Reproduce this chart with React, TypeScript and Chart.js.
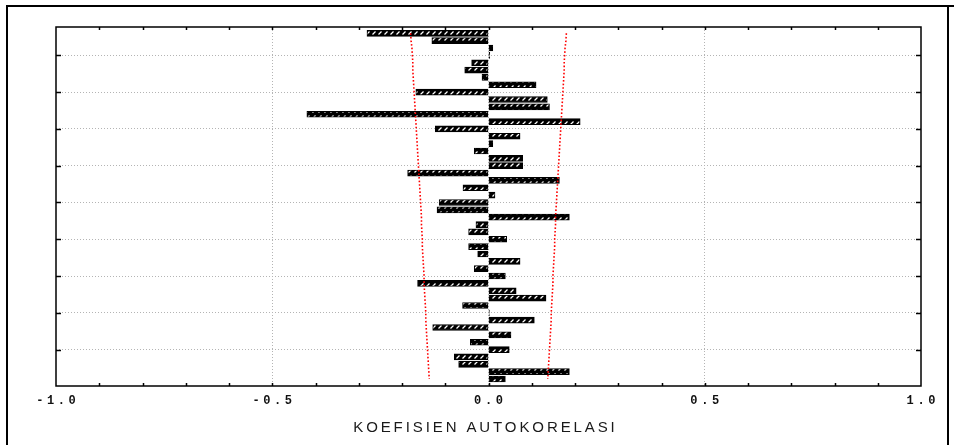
import React, { useEffect, useRef } from 'react';
import { Chart, registerables } from 'chart.js';

Chart.register(...registerables);

// Lags 1..48 (top to bottom)
const lags = [
  1, 2, 3, 4, 5, 6, 7, 8, 9, 10, 11, 12, 13, 14, 15, 16,
  17, 18, 19, 20, 21, 22, 23, 24, 25, 26, 27, 28, 29, 30, 31, 32,
  33, 34, 35, 36, 37, 38, 39, 40, 41, 42, 43, 44, 45, 46, 47, 48,
];

// Autocorrelation coefficients
const acf = [
  -0.281, -0.131, 0.010, 0.003, -0.039, -0.055, -0.015, 0.110,
  -0.168, 0.136, 0.141, -0.420, 0.212, -0.123, 0.073, 0.010,
  -0.033, 0.079, 0.079, -0.187, 0.164, -0.059, 0.015, -0.114,
  -0.119, 0.187, -0.029, -0.046, 0.042, -0.046, -0.025, 0.073,
  -0.033, 0.039, -0.164, 0.064, 0.133, -0.060, 0.002, 0.106,
  -0.129, 0.052, -0.042, 0.048, -0.079, -0.069, 0.187, 0.039,
];

// Confidence limit (± this value) per lag
const confLimit = [
  0.180, 0.179, 0.177, 0.176, 0.175, 0.175, 0.174, 0.173,
  0.172, 0.171, 0.170, 0.169, 0.168, 0.167, 0.166, 0.165,
  0.164, 0.163, 0.162, 0.161, 0.160, 0.159, 0.158, 0.157,
  0.156, 0.155, 0.155, 0.154, 0.153, 0.153, 0.152, 0.151,
  0.150, 0.149, 0.149, 0.148, 0.147, 0.146, 0.145, 0.145,
  0.144, 0.143, 0.142, 0.141, 0.140, 0.139, 0.138, 0.137,
];

const xTickLabels = [-1.0, -0.5, 0.0, 0.5, 1.0];
const xMinorTicks = [
  -0.9, -0.8, -0.7, -0.6, -0.5, -0.4, -0.3, -0.2, -0.1, 0.0,
  0.1, 0.2, 0.3, 0.4, 0.5, 0.6, 0.7, 0.8, 0.9,
];
const yGridLags = [4, 9, 14, 19, 24, 29, 34, 39, 44];
const axisTitle = 'KOEFISIEN AUTOKORELASI';

function makePattern(): CanvasPattern | string {
  const c = document.createElement('canvas');
  c.width = 6;
  c.height = 6;
  const g = c.getContext('2d');
  if (!g) return '#000';
  g.fillStyle = '#000';
  g.fillRect(0, 0, 6, 6);
  g.strokeStyle = '#fff';
  g.lineWidth = 1.3;
  g.beginPath();
  g.moveTo(0.5, 4.5);
  g.lineTo(3.5, 1.5);
  g.stroke();
  const p = g.createPattern(c, 'repeat');
  return p || '#000';
}

const decorPlugin = {
  id: 'decor',
  afterDraw(chart: any) {
    const ctx = chart.ctx as CanvasRenderingContext2D;
    const { left, right, top, bottom } = chart.chartArea;
    const xs = chart.scales.x;
    const ys = chart.scales.y;
    ctx.save();
    // plot frame
    ctx.strokeStyle = '#000';
    ctx.lineWidth = 1.5;
    ctx.strokeRect(left, top, right - left, bottom - top);
    // minor x ticks (inside, top and bottom)
    ctx.beginPath();
    for (const v of xMinorTicks) {
      const px = Math.round(xs.getPixelForValue(v)) + 0.5;
      ctx.moveTo(px, top);
      ctx.lineTo(px, top + 3);
      ctx.moveTo(px, bottom);
      ctx.lineTo(px, bottom - 3);
    }
    // y ticks (inside, left and right)
    for (const v of yGridLags) {
      const py = Math.round(ys.getPixelForValue(v)) + 0.5;
      ctx.moveTo(left, py);
      ctx.lineTo(left + 5, py);
      ctx.moveTo(right, py);
      ctx.lineTo(right - 5, py);
    }
    ctx.stroke();
    // x tick labels
    ctx.fillStyle = '#111';
    ctx.textAlign = 'center';
    ctx.textBaseline = 'middle';
    ctx.font = 'bold 12px "Liberation Mono"';
    (ctx as any).letterSpacing = '3.6px';
    for (const v of xTickLabels) {
      const px = xs.getPixelForValue(v);
      ctx.fillText(v.toFixed(1), px + 1.8, 401);
    }
    // axis title
    ctx.font = '15px "Liberation Sans"';
    (ctx as any).letterSpacing = '2.9px';
    ctx.fillStyle = '#1a1a1a';
    ctx.fillText(axisTitle, 484 + 1.45, 428);
    (ctx as any).letterSpacing = '0px';
    // outer frame
    ctx.strokeStyle = '#000';
    ctx.lineWidth = 2;
    ctx.beginPath();
    ctx.moveTo(7, 445);
    ctx.lineTo(7, 6);
    ctx.lineTo(954, 6);
    ctx.moveTo(948, 6);
    ctx.lineTo(948, 445);
    ctx.stroke();
    ctx.restore();
  },
};

export default function App() {
  const ref = useRef<HTMLCanvasElement | null>(null);

  useEffect(() => {
    document.body.style.margin = '0';
    const canvas = ref.current;
    if (!canvas) return;
    const pattern = makePattern();
    const gridColor = '#b4b4b4';
    const limitStyle = {
      type: 'line',
      borderColor: '#ff0000',
      borderWidth: 1.6,
      borderDash: [1.6, 2],
      borderCapStyle: 'butt',
      pointRadius: 0,
      fill: false,
      tension: 0,
      order: 0,
    };
    const chart = new Chart(canvas, {
      type: 'bar',
      data: {
        datasets: [
          {
            ...limitStyle,
            data: lags.map((l, i) => ({ x: -confLimit[i], y: l })),
          } as any,
          {
            ...limitStyle,
            data: lags.map((l, i) => ({ x: confLimit[i], y: l })),
          } as any,
          {
            type: 'bar',
            data: lags.map((l, i) => ({ x: acf[i], y: l })),
            backgroundColor: pattern as any,
            borderColor: '#000',
            borderWidth: 1,
            borderSkipped: false,
            barThickness: 6,
            order: 1,
          } as any,
        ],
      },
      options: {
        indexAxis: 'y',
        animation: false,
        responsive: true,
        maintainAspectRatio: false,
        events: [],
        layout: { padding: { left: 56, right: 33, top: 27, bottom: 59 } },
        plugins: {
          legend: { display: false },
          tooltip: { enabled: false },
          title: { display: false },
        },
        scales: {
          x: {
            type: 'linear',
            min: -1,
            max: 1,
            offset: false,
            ticks: { display: false, stepSize: 0.5 },
            grid: {
              drawTicks: false,
              lineWidth: 1,
              color: (c: any) =>
                c.tick && Math.abs(c.tick.value) > 0.99 ? 'rgba(0,0,0,0)' : gridColor,
            },
            border: { display: false, dash: [1, 2] },
          },
          y: {
            type: 'linear',
            reverse: true,
            min: 0.143,
            max: 48.95,
            offset: false,
            afterBuildTicks: (scale: any) => {
              scale.ticks = yGridLags.map((v) => ({ value: v }));
            },
            ticks: { display: false },
            grid: { drawTicks: false, lineWidth: 1, color: gridColor, offset: false },
            border: { display: false, dash: [1, 2] },
          },
        },
      } as any,
      plugins: [decorPlugin],
    });
    return () => chart.destroy();
  }, []);

  return (
    <div style={{ position: 'absolute', left: 0, top: 0, width: 954, height: 445, background: '#fff' }}>
      <canvas ref={ref} />
    </div>
  );
}
